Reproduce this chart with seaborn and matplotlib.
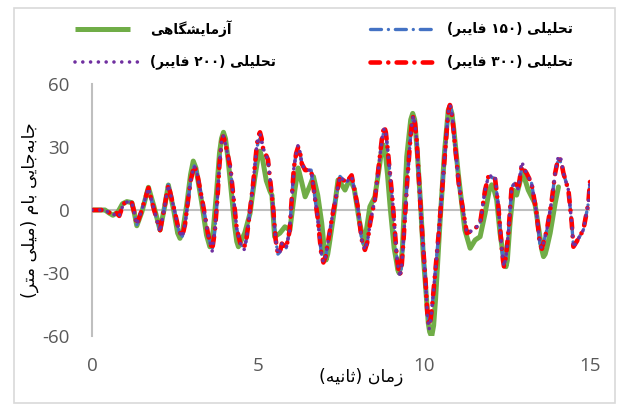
import matplotlib
matplotlib.use("Agg")
import matplotlib.pyplot as plt
import seaborn as sns
import pandas as pd

# ---------------- data ----------------
green_t = [0, 0.39, 0.52, 0.63, 0.78, 0.92, 1.05, 1.2, 1.27, 1.35,
           1.5, 1.7, 1.86, 2.05, 2.18, 2.3, 2.46, 2.58, 2.65, 2.73,
           2.85, 2.97, 3.05, 3.13, 3.3, 3.45, 3.55, 3.65, 3.75, 3.84,
           3.9, 3.96, 4.02, 4.1, 4.2, 4.3, 4.36, 4.41, 4.48, 4.6,
           4.76, 4.9, 5.0, 5.06, 5.14, 5.25, 5.36, 5.42, 5.5, 5.66,
           5.81, 5.96, 6.11, 6.21, 6.32, 6.42, 6.55, 6.67, 6.8, 6.92,
           7.0, 7.05, 7.1, 7.15, 7.27, 7.41, 7.52, 7.62, 7.77, 7.9,
           8.05, 8.2, 8.37, 8.52, 8.67, 8.72, 8.77, 8.83, 8.9, 8.98,
           9.1, 9.18, 9.21, 9.25, 9.3, 9.35, 9.48, 9.6, 9.66, 9.72,
           9.8, 9.9, 9.98, 10.13, 10.17, 10.23, 10.29, 10.35, 10.48, 10.62,
           10.73, 10.78, 10.84, 10.9, 11.03, 11.23, 11.39, 11.54, 11.69, 11.84,
           11.96, 12.04, 12.12, 12.19, 12.29, 12.39, 12.43, 12.47, 12.51, 12.59,
           12.69, 12.79, 12.9, 12.97, 13.05, 13.14, 13.34, 13.49, 13.55, 13.6,
           13.65, 13.7, 13.8, 13.95, 14.05]
green_v = [0, 0, -1.5, -2.5, -1, 3, 4, 3.5, -1, -7.5,
           -1, 10.8, 2, -9.5, 1, 11.9, 0, -11, -13.5, -10,
           2, 17, 23.3, 20, 4, -12, -17.5, -10, 8, 27,
           34, 37, 34, 24, 8, -8, -15, -17.5, -15, -11,
           -1.6, 15, 25, 28, 24, 14, 9, 7, -12.7, -11,
           -8, -9.5, 9.5, 20, 13, 6.3, 11, 15.9, 7, -6.3,
           -19, -23.8, -21, -16, -3.2, 14.3, 12, 9.5, 15, 10,
           -5, -16.5, 1.6, 6.3, 22.2, 28.5, 31, 28, 17, 1.6,
           -18, -25.4, -28.5, -30, -27, -18, 25.4, 43, 46, 43,
           27, 2, -22, -54, -58, -60.3, -55, -42, -6.3, 28,
           47.5, 49.2, 46, 38, 17.5, -9.5, -18.2, -14.3, -12.7, -1.6,
           9, 12, 9, 4.8, -11, -22, -25.5, -27, -24, -6.3,
           9.5, 7.1, 14, 17, 14, 9.5, 3.2, -12.7, -19, -22.2,
           -21, -18, -11, 3.2, 11]

ana_t = [0, 0.33, 0.5, 0.64, 0.74, 0.82, 0.95, 1.08, 1.2, 1.27,
         1.35, 1.5, 1.7, 1.87, 2.05, 2.18, 2.3, 2.48, 2.62, 2.72,
         2.8, 2.88, 2.97, 3.08, 3.16, 3.35, 3.5, 3.62, 3.7, 3.78,
         3.84, 3.9, 3.95, 4.0, 4.08, 4.17, 4.36, 4.47, 4.58, 4.65,
         4.7, 4.85, 4.96, 5.0, 5.06, 5.11, 5.14, 5.3, 5.45, 5.53,
         5.6, 5.66, 5.72, 5.85, 5.95, 6.08, 6.15, 6.21, 6.27, 6.32,
         6.42, 6.6, 6.8, 6.9, 6.97, 7.04, 7.1, 7.25, 7.47, 7.65,
         7.82, 8.0, 8.12, 8.22, 8.3, 8.38, 8.52, 8.66, 8.74, 8.8,
         8.85, 8.9, 9.05, 9.18, 9.23, 9.28, 9.33, 9.38, 9.5, 9.6,
         9.64, 9.68, 9.73, 9.78, 9.92, 10.05, 10.1, 10.15, 10.2, 10.25,
         10.45, 10.62, 10.72, 10.75, 10.78, 10.82, 10.86, 11.05, 11.29, 11.5,
         11.69, 11.84, 11.94, 12.14, 12.24, 12.34, 12.38, 12.41, 12.47, 12.55,
         12.64, 12.74, 12.84, 12.94, 13.09, 13.24, 13.39, 13.49, 13.55, 13.7,
         13.85, 13.95, 14.02, 14.08, 14.14, 14.2, 14.35, 14.45, 14.5, 14.6,
         14.8, 14.95, 15.0]
red_v = [0, 0, -1, -2.4, -1.5, -2.8, 3, 4, 3.5, -1,
         -7, 0, 10.5, 0, -9.6, 1, 12, 0, -10, -12.5,
         -7, 3, 14, 21, 18, 2, -12, -19, -10, 6,
         22, 32, 35, 33, 27, 20, -9, -16, -18, -14,
         -8, 12, 30, 35, 37, 34, 30, 24, 2, -14,
         -21, -20, -16, -18, -10, 20, 27, 30, 27, 22,
         19, 19, -4, -20, -25, -22, -16, -2, 16, 13,
         16.5, 2, -14, -19, -15, -6, 5, 24, 35, 40,
         37, 30, 5, -22, -28, -31, -26, -15, 15, 36,
         42, 45, 41, 33, -5, -35, -49, -55, -52, -45,
         -10, 25, 45, 48.5, 50, 48, 43, 12, -11, -9.5,
         -6.3, 9.5, 16, 15, 1.6, -18, -24, -27, -22, -9.5,
         11, 12.7, 10, 21, 17.5, 12.7, -1.6, -16, -18.5, -9.5,
         4.8, 17.5, 23, 24.6, 22.5, 17.5, 9.5, -6.3, -17.5, -15,
         -9.5, 3.2, 13.5]
blue_v = [0, 0, -1, -2.4, -1.5, -2.8, 3, 4, 3.5, -1,
          -7, 0, 10.5, 0, -9.6, 1, 12, 0, -10, -12.5,
          -7, 3, 14, 21, 18, 2, -12, -19, -10, 6,
          22, 32, 35, 33, 27, 20, -9, -16, -18, -14,
          -8, 12, 29, 32, 34, 32, 29, 24, 2, -14,
          -21, -20, -16, -18, -10, 20, 27, 30, 27, 22,
          19, 19, -4, -20, -25, -22, -16, -2, 16, 13,
          16, 2, -14, -19, -15, -6, 5, 24, 34, 38,
          36, 30, 5, -22, -28, -31, -26, -15, 15, 36,
          41, 44, 40, 33, -5, -35, -48, -53, -51, -45,
          -10, 25, 45, 48.5, 50, 48, 43, 12, -11, -9.5,
          -6.3, 9.5, 16, 15, 1.6, -18, -24, -27, -22, -9.5,
          11, 12.7, 10, 20, 17.5, 12.7, -1.6, -16, -18.5, -9.5,
          4.8, 17.5, 22.5, 24, 22, 17.5, 9.5, -6.3, -17.5, -15,
          -9.5, 3.2, 13.5]
purple_v = [0, 0, -1, -2.4, -1.5, -2.8, 3, 4, 3.5, -1,
            -7, 0, 10.5, 0, -10.5, 1, 12, 0, -10, -13,
            -7, 3, 14, 21, 18, 2, -12, -19.5, -10, 6,
            22, 32, 35.5, 33, 27, 20, -9, -16, -19, -14,
            -8, 12, 30, 34, 36, 34, 30, 24, 2, -14,
            -21, -20, -16, -18, -10, 20, 27, 31, 27, 22,
            19, 19, -4, -20, -25, -22, -16, -2, 16, 13,
            16, 2, -14, -19, -15, -6, 5, 24, 34.5, 39,
            36.5, 30, 5, -22, -28.5, -32, -26, -15, 15, 36,
            42, 45, 41, 33, -5, -35, -50, -57, -53, -45,
            -10, 25, 45, 48.5, 50, 48, 43, 12, -11, -9.5,
            -6.3, 9.5, 16, 16.5, 1.6, -18, -24, -27, -22, -9.5,
            11, 12.7, 10, 23, 17.5, 12.7, -1.6, -16, -18.5, -9.5,
            4.8, 17.5, 24, 26, 23.5, 17.5, 9.5, -6.3, -18, -15,
            -9.5, 3.2, 14.5]

series_names = ["آزمایشگاهی", "تحلیلی (۱۵۰ فایبر)", "تحلیلی (۲۰۰ فایبر)", "تحلیلی (۳۰۰ فایبر)"]
x_ticks = [0, 5, 10, 15]
x_ticklabels = ["0", "5", "10", "15"]
y_ticks = [-60, -30, 0, 30, 60]
y_ticklabels = ["-60", "-30", "0", "30", "60"]
x_title = "زمان (ثانیه)"
y_title = "جابه\u200cجایی بام (میلی متر)"

# ------------- simple Persian shaping for display -------------
_FORMS = {
    '\u0622': ('\uFE81', '\uFE82'),
    '\u0627': ('\uFE8D', '\uFE8E'),
    '\u0628': ('\uFE8F', '\uFE90', '\uFE91', '\uFE92'),
    '\u062A': ('\uFE95', '\uFE96', '\uFE97', '\uFE98'),
    '\u062B': ('\uFE99', '\uFE9A', '\uFE9B', '\uFE9C'),
    '\u062C': ('\uFE9D', '\uFE9E', '\uFE9F', '\uFEA0'),
    '\u062D': ('\uFEA1', '\uFEA2', '\uFEA3', '\uFEA4'),
    '\u0631': ('\uFEAD', '\uFEAE'),
    '\u0632': ('\uFEAF', '\uFEB0'),
    '\u0634': ('\uFEB5', '\uFEB6', '\uFEB7', '\uFEB8'),
    '\u0641': ('\uFED1', '\uFED2', '\uFED3', '\uFED4'),
    '\u0644': ('\uFEDD', '\uFEDE', '\uFEDF', '\uFEE0'),
    '\u0645': ('\uFEE1', '\uFEE2', '\uFEE3', '\uFEE4'),
    '\u0646': ('\uFEE5', '\uFEE6', '\uFEE7', '\uFEE8'),
    '\u0647': ('\uFEE9', '\uFEEA', '\uFEEB', '\uFEEC'),
    '\u06AF': ('\uFB92', '\uFB93', '\uFB94', '\uFB95'),
    '\u06CC': ('\uFBFC', '\uFBFD', '\uFBFE', '\uFBFF'),
}


def shape(s):
    chars = list(s)
    n = len(chars)
    out = []
    for i, c in enumerate(chars):
        f = _FORMS.get(c)
        if f is None:
            if c != '\u200c':
                out.append(c)
            continue
        prev = chars[i - 1] if i > 0 else ''
        nxt = chars[i + 1] if i + 1 < n else ''
        jp = prev in _FORMS and len(_FORMS[prev]) == 4
        jn = len(f) == 4 and nxt in _FORMS
        if jp and jn:
            g = f[3]
        elif jp:
            g = f[1]
        elif jn:
            g = f[2]
        else:
            g = f[0]
        out.append(g)
    vis = [{'(': ')', ')': '('}.get(c, c) for c in out[::-1]]
    res, run = [], []
    for c in vis:
        if c.isdigit():
            run.append(c)
        else:
            res.extend(run[::-1])
            run = []
            res.append(c)
    res.extend(run[::-1])
    return ''.join(res)


# ---------------- style ----------------
sns.set_theme(style="white")
plt.rcParams['font.family'] = ['Open Sans', 'DejaVu Sans']
plt.rcParams['lines.scale_dashes'] = False
plt.rcParams['axes.unicode_minus'] = False

GREEN = "#70AD47"
BLUE = "#4472C4"
PURPLE = "#7030A0"
RED = "#FF0000"
GRAY_AX = "#BFBFBF"
TICK_C = "#595959"

styles = [
    dict(color=GREEN, lw=3.6, ls='-', z=2),
    dict(color=BLUE, lw=2.4, ls=(0, (7.9, 5.0, 0.01, 5.0)), z=3),
    dict(color=PURPLE, lw=2.6, ls=(0, (0.01, 5.6)), z=5),
    dict(color=RED, lw=3.3, ls=(0, (6.8, 6.0, 0.01, 6.0)), z=4),
]

W, H = 620, 405
fig = plt.figure(figsize=(W / 100, H / 100), dpi=100)

# overlay in pixel coordinates for border + legend
lax = fig.add_axes([0, 0, 1, 1], zorder=0)
lax.set_xlim(0, W)
lax.set_ylim(H, 0)
lax.axis('off')
lax.patch.set_alpha(0)
lax.add_patch(plt.Rectangle((14, 8), 601, 395, fill=False, ec="#D9D9D9", lw=1.2))

ax = fig.add_axes([92 / W, 69 / H, 498 / W, 252 / H], zorder=1)
ax.patch.set_alpha(0)

ax.axhline(0, color=GRAY_AX, lw=1.5, zorder=1)

data = [(green_t, green_v), (ana_t, blue_v), (ana_t, purple_v), (ana_t, red_v)]
for (t, v), name, st in zip(data, series_names, styles):
    df = pd.DataFrame({"t": t, "v": v})
    sns.lineplot(data=df, x="t", y="v", ax=ax, color=st['color'], lw=st['lw'],
                 estimator=None, sort=False, zorder=st['z'])
    ln = ax.lines[-1]
    ln.set_linestyle(st['ls'])
    ln.set_solid_capstyle('round')
    ln.set_solid_joinstyle('round')
    ln.set_dash_capstyle('round')
    ln.set_dash_joinstyle('round')

ax.set_xlim(0, 15)
ax.set_ylim(-60, 60)
ax.set_xticks(x_ticks)
ax.set_xticklabels(x_ticklabels)
ax.set_yticks(y_ticks)
ax.set_yticklabels(y_ticklabels)
ax.tick_params(axis='both', length=0, labelsize=13.5, labelcolor=TICK_C)
ax.tick_params(axis='x', pad=15)
ax.tick_params(axis='y', pad=16)
ax.set_xlabel("")
ax.set_ylabel("")
for side in ['top', 'right', 'bottom']:
    ax.spines[side].set_visible(False)
ax.spines['left'].set_color(GRAY_AX)
ax.spines['left'].set_linewidth(1.5)
ax.grid(False)

# axis titles
lax.text(361, 377, shape(x_title), ha='center', va='center', fontsize=12.5,
         family=['DejaVu Sans'], color='black')
lax.text(30, 210, shape(y_title), ha='center', va='center', fontsize=12.5, rotation=90,
         family=['DejaVu Sans'], color='black')

# legend (manual, two columns)
leg_items = [
    (0, (75, 130), 29, 150),
    (1, (370, 432), 29, 447),
    (2, (75, 143), 62, 150),
    (3, (370, 432), 62, 447),
]
for idx, (x0, x1), y, tx in leg_items:
    st = styles[idx]
    h = lax.plot([x0, x1], [y, y], color=st['color'], lw=st['lw'])[0]
    h.set_linestyle(st['ls'])
    h.set_dash_capstyle('round')
    h.set_solid_capstyle('butt')
    lax.text(tx, y, shape(series_names[idx]), ha='left', va='center', fontsize=9.8,
             fontweight='bold', family=['DejaVu Sans'], color='black')

fig.savefig("out.png", dpi=100)
